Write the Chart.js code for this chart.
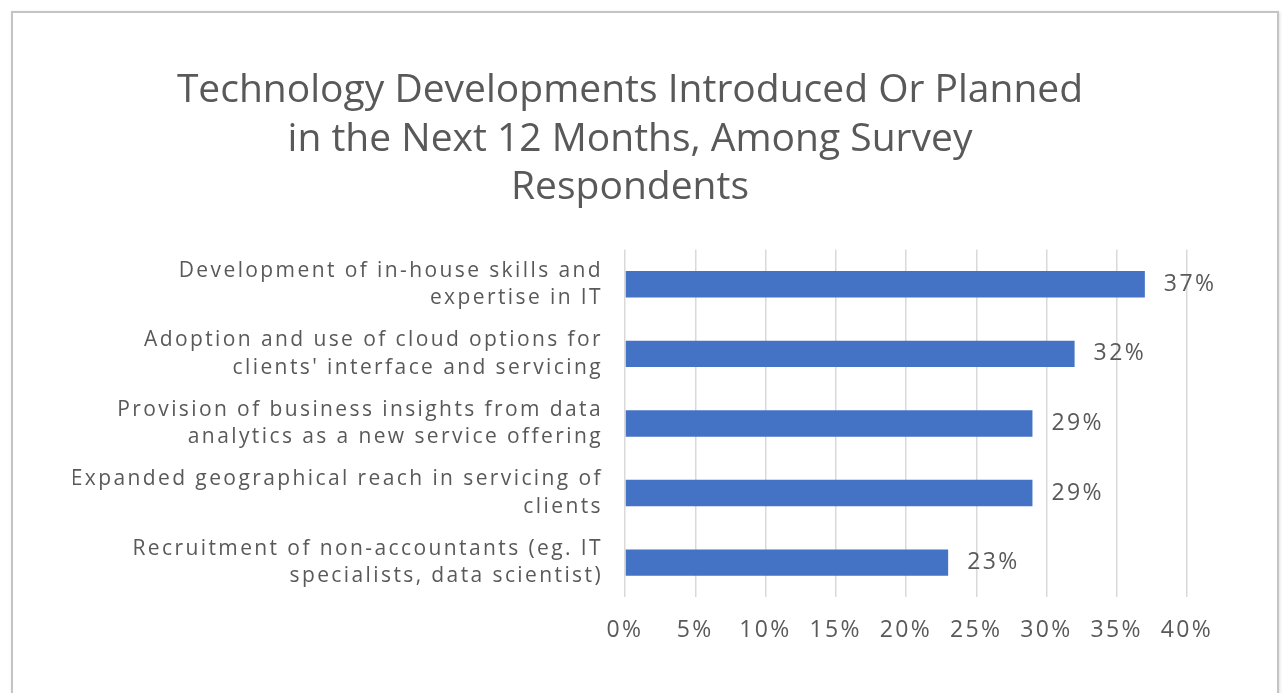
<!DOCTYPE html>
<html>
<head>
<meta charset="utf-8">
<script src="https://cdn.jsdelivr.net/npm/chart.js@4"></script>
<style>
html,body{margin:0;padding:0;background:#fff;}
#frame{position:absolute;left:11px;top:11px;width:1268px;height:690px;border:2px solid #c4c4c4;border-bottom:none;box-shadow:1px 1px 3px rgba(0,0,0,0.12);box-sizing:border-box;}
#wrap{position:absolute;left:0;top:0;width:1284px;height:693px;}
</style>
</head>
<body>
<div id="frame"></div>
<div id="wrap"><canvas id="c" width="1284" height="693"></canvas></div>
<script>
const titleLines = ["Technology Developments Introduced Or Planned", "in the Next 12 Months, Among Survey", "Respondents"];
const categories = [
  ["Development of in-house skills and", "expertise in IT"],
  ["Adoption and use of cloud options for", "clients' interface and servicing"],
  ["Provision of business insights from data", "analytics as a new service offering"],
  ["Expanded geographical reach in servicing of", "clients"],
  ["Recruitment of non-accountants (eg. IT", "specialists, data scientist)"]
];
const values = [37, 32, 29, 29, 23];
const tickMin = 0, tickMax = 40, tickStep = 5;

const FONT = "'Open Sans', sans-serif";
const TXT = "#595959";
const SPACING = '2.4px';

const valueLabels = {
  id: 'valueLabels',
  afterDatasetsDraw(chart) {
    const ctx = chart.ctx;
    // letter spacing for axis tick labels (drawn after datasets, z = 1)
    ctx.letterSpacing = SPACING;
    const meta = chart.getDatasetMeta(0);
    ctx.save();
    ctx.letterSpacing = SPACING;
    ctx.font = "23px " + FONT;
    ctx.fillStyle = TXT;
    ctx.textBaseline = 'middle';
    ctx.textAlign = 'left';
    meta.data.forEach((bar, i) => {
      ctx.fillText(values[i] + '%', bar.x + 19, bar.y);
    });
    ctx.restore();
  },
  afterDraw(chart) {
    chart.ctx.letterSpacing = '0px';
  }
};

new Chart(document.getElementById('c'), {
  type: 'bar',
  data: {
    labels: categories,
    datasets: [{
      data: values,
      backgroundColor: '#4472C4',
      borderWidth: 0,
      categoryPercentage: 1.0,
      barPercentage: 0.38
    }]
  },
  options: {
    indexAxis: 'y',
    responsive: false,
    animation: false,
    devicePixelRatio: 1,
    layout: { padding: { left: 73, right: 97, top: 0, bottom: 30 } },
    plugins: {
      legend: { display: false },
      tooltip: { enabled: false },
      title: {
        display: true,
        text: titleLines,
        color: TXT,
        font: { family: FONT, size: 39, weight: 'normal', lineHeight: 1.244 },
        padding: { top: 67, bottom: 37 }
      }
    },
    scales: {
      x: {
        min: tickMin, max: tickMax,
        ticks: {
          stepSize: tickStep,
          color: TXT,
          font: { family: FONT, size: 23 },
          padding: 19,
          z: 1,
          callback: v => v + '%'
        },
        grid: { color: '#d9d9d9', lineWidth: 1.5, drawTicks: false },
        border: { display: false }
      },
      y: {
        afterFit: s => { s.width = 552; s.paddingTop = 0; s.paddingBottom = 0; },
        ticks: {
          color: TXT,
          font: { family: FONT, size: 21, lineHeight: 1.3 },
          padding: 22,
          z: 1
        },
        grid: { display: false, drawTicks: false },
        border: { display: false }
      }
    }
  },
  plugins: [valueLabels]
});
</script>
</body>
</html>
